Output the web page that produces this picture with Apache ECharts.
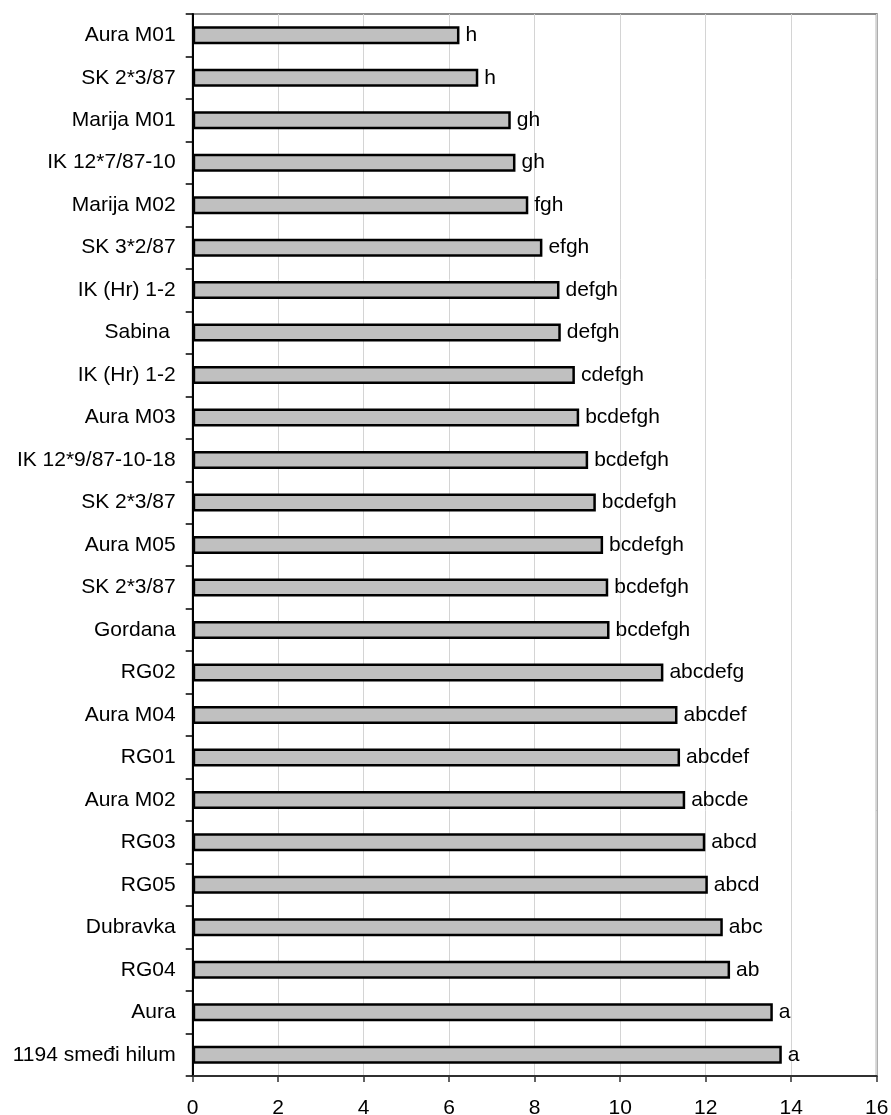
<!DOCTYPE html>
<html>
<head>
<meta charset="utf-8">
<script src="https://cdn.jsdelivr.net/npm/echarts@6/dist/echarts.min.js"></script>
<style>
  html, body { margin: 0; padding: 0; background: #fff; }
  #chart { width: 891px; height: 1115px; }
</style>
</head>
<body>
<div id="chart"></div>
<script>
// Cultivars / lines, listed top to bottom
const categories = [
  'Aura M01', 'SK 2*3/87', 'Marija M01', 'IK 12*7/87-10', 'Marija M02',
  'SK 3*2/87', 'IK (Hr) 1-2', 'Sabina ', 'IK (Hr) 1-2', 'Aura M03',
  'IK 12*9/87-10-18', 'SK 2*3/87', 'Aura M05', 'SK 2*3/87', 'Gordana',
  'RG02', 'Aura M04', 'RG01', 'Aura M02', 'RG03',
  'RG05', 'Dubravka', 'RG04', 'Aura', '1194 smeđi hilum'
];

// Mean values
const values = [
  6.24, 6.68, 7.44, 7.55, 7.85,
  8.18, 8.58, 8.61, 8.94, 9.04,
  9.25, 9.43, 9.60, 9.72, 9.75,
  11.01, 11.34, 11.40, 11.52, 11.99,
  12.05, 12.40, 12.57, 13.57, 13.78
];

// Significance groups (letters) shown next to each bar
const groups = [
  'h', 'h', 'gh', 'gh', 'fgh',
  'efgh', 'defgh', 'defgh', 'cdefgh', 'bcdefgh',
  'bcdefgh', 'bcdefgh', 'bcdefgh', 'bcdefgh', 'bcdefgh',
  'abcdefg', 'abcdef', 'abcdef', 'abcde', 'abcd',
  'abcd', 'abc', 'ab', 'a', 'a'
];

// Value axis
const xMin = 0;
const xMax = 16;
const xStep = 2;

const FONT = '"Liberation Sans", Arial, sans-serif';

const chart = echarts.init(document.getElementById('chart'), null, { renderer: 'canvas' });

chart.setOption({
  animation: false,
  backgroundColor: '#ffffff',
  grid: {
    left: 192.7,
    right: 14.3,
    top: 14,
    bottom: 39,
    containLabel: false,
    outerBoundsMode: 'none',
    show: true,
    borderColor: '#8a8a8a',
    borderWidth: 2,
    backgroundColor: 'transparent'
  },
  xAxis: {
    type: 'value',
    min: xMin,
    max: xMax,
    interval: xStep,
    axisLine: { show: true, lineStyle: { color: '#303030', width: 2 } },
    axisTick: { show: true, inside: false, length: 6, lineStyle: { color: '#303030', width: 1.5 } },
    axisLabel: {
      margin: 22,
      fontFamily: FONT,
      fontSize: 21,
      color: '#000'
    },
    splitLine: { show: true, lineStyle: { color: '#d4d4d4', width: 1 } }
  },
  yAxis: {
    type: 'category',
    data: categories,
    inverse: true,
    axisLine: { show: true, lineStyle: { color: '#000', width: 2 } },
    axisTick: { show: true, inside: false, length: 7, alignWithLabel: false, lineStyle: { color: '#000', width: 1.5 } },
    axisLabel: {
      margin: 17,
      fontFamily: FONT,
      fontSize: 21,
      color: '#000'
    },
    splitLine: { show: false }
  },
  series: [{
    type: 'bar',
    data: values,
    barWidth: 18,
    itemStyle: {
      color: '#c0c0c0',
      borderColor: '#000',
      borderWidth: 2.5
    },
    label: {
      show: true,
      position: 'right',
      distance: 6,
      fontFamily: FONT,
      fontSize: 21,
      color: '#000',
      formatter: (p) => groups[p.dataIndex]
    }
  }]
});
</script>
</body>
</html>
